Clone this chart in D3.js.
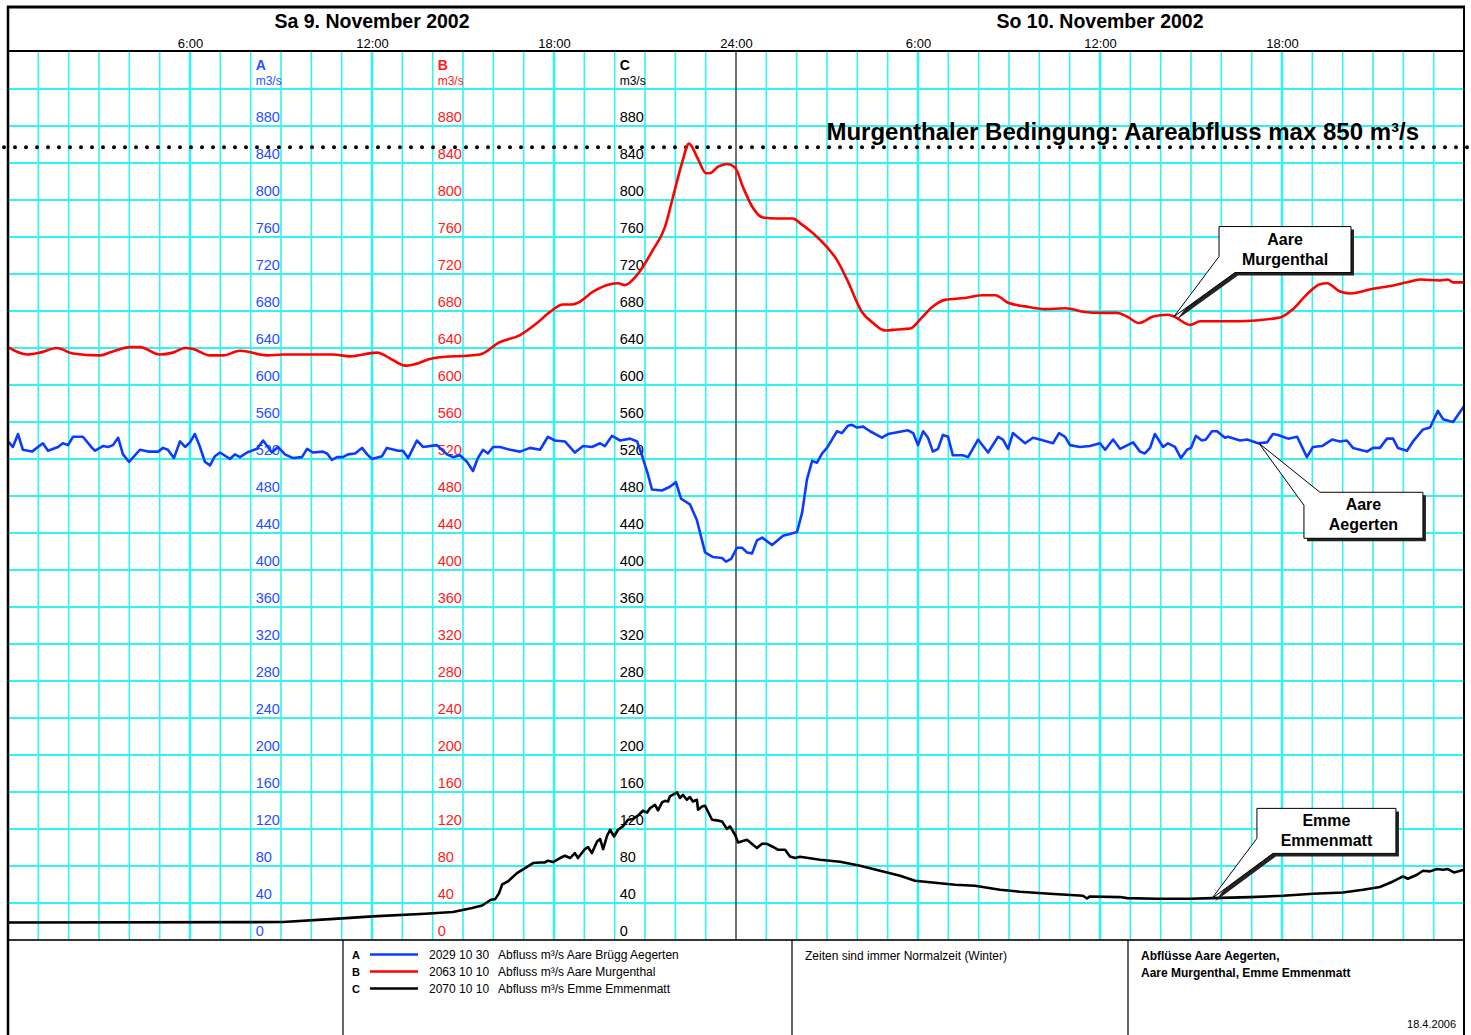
<!DOCTYPE html>
<html>
<head>
<meta charset="utf-8">
<script src="https://cdn.jsdelivr.net/npm/d3@7"></script>
<style>
  body { margin: 0; background: #fff; }
  svg { display: block; }
  text { font-family: "Liberation Sans", Arial, Helvetica, sans-serif; }
</style>
</head>
<body>
<script>
// hours since Sa 9.11.2002 0:00, flow m3/s
const aareAegerten = [
  [0,539],[0.16,533],[0.33,547],[0.49,530],[0.79,528],[1.15,537],[1.32,529],[1.65,533],[1.81,537],[1.98,535],
  [2.14,544],[2.47,544],[2.77,532],[2.87,529],[3.13,534],[3.3,533],[3.46,535],[3.63,543],[3.79,525],[3.99,517],
  [4.35,530],[4.62,528],[4.95,528],[5.11,532],[5.27,530],[5.47,521],[5.67,539],[5.84,533],[6.0,538],[6.16,547],
  [6.33,533],[6.49,517],[6.66,513],[6.82,523],[6.99,527],[7.32,520],[7.48,525],[7.65,522],[7.88,527],[8.21,531],
  [8.41,540],[8.57,533],[8.7,527],[8.9,533],[9.13,525],[9.4,521],[9.69,522],[9.86,531],[10.05,527],[10.38,528],
  [10.52,526],[10.68,519],[10.85,522],[11.04,522],[11.21,525],[11.44,526],[11.67,532],[11.84,525],[12.0,520],
  [12.33,523],[12.49,532],[12.86,529],[13.02,529],[13.19,521],[13.48,540],[13.68,533],[14.14,535],[14.47,525],
  [14.67,522],[14.9,524],[15.13,517],[15.33,507],[15.49,521],[15.66,530],[15.82,526],[15.99,533],[16.22,533],
  [16.55,530],[16.88,528],[17.21,532],[17.54,530],[17.8,544],[18.03,540],[18.36,539],[18.69,527],[18.96,534],
  [19.25,533],[19.52,537],[19.68,534],[19.91,545],[20.18,540],[20.51,542],[20.74,539],[20.9,524],[21.1,503],
  [21.23,487],[21.56,486],[21.82,490],[22.02,495],[22.19,477],[22.48,471],[22.71,454],[22.81,441],[22.98,419],
  [23.24,414],[23.54,413],[23.67,409],[23.84,412],[24.03,424],[24.2,424],[24.36,419],[24.53,418],[24.69,432],
  [24.86,435],[25.19,427],[25.55,437],[25.78,439],[26.01,441],[26.18,462],[26.34,498],[26.51,518],[26.67,516],
  [26.84,526],[27.0,532],[27.33,550],[27.49,548],[27.69,556],[27.82,557],[27.99,554],[28.19,555],[28.42,550],
  [28.81,543],[29.01,547],[29.67,551],[29.84,548],[30.0,535],[30.17,550],[30.33,543],[30.49,528],[30.66,531],
  [30.82,546],[30.99,544],[31.15,524],[31.48,524],[31.65,522],[31.98,541],[32.31,527],[32.64,544],[32.8,541],
  [32.97,531],[33.13,548],[33.53,537],[33.79,543],[34.02,541],[34.45,537],[34.65,548],[34.85,544],[35.01,535],
  [35.34,533],[35.67,534],[36.0,537],[36.17,530],[36.43,541],[36.66,531],[37.09,538],[37.32,528],[37.48,526],
  [37.65,532],[37.81,547],[38.08,533],[38.24,537],[38.47,533],[38.67,521],[38.87,530],[39.0,532],[39.16,545],
  [39.36,540],[39.49,541],[39.69,550],[39.86,550],[40.12,543],[40.22,544],[40.62,540],[40.85,541],[41.21,537],
  [41.51,538],[41.7,547],[41.87,546],[42.2,542],[42.5,544],[42.82,522],[43.02,533],[43.32,534],[43.65,541],
  [43.91,539],[44.14,540],[44.34,532],[44.8,528],[45.0,532],[45.23,532],[45.46,542],[45.66,542],[45.82,532],
  [46.12,529],[46.32,539],[46.65,552],[46.88,554],[47.14,572],[47.31,563],[47.64,560],[48,577]
];

const aareMurgenthal = [
  [0,641],[0.63,633],[1.05,635],[1.62,640],[2.14,634],[3.03,632],[3.43,636],[4.02,641],[4.35,641],[5.01,633],
  [5.44,635],[5.84,640],[6.1,639],[6.66,632],[7.09,632],[7.65,637],[8.54,632],[9.07,633],[10.71,633],[11.27,631],
  [12.16,635],[12.69,627],[13.09,621],[13.35,622],[14.01,629],[15.56,633],[16.2,646],[16.88,654],[17.44,667],
  [17.87,679],[18.3,687],[18.59,687],[18.79,689],[19.29,701],[19.85,709],[20.11,710],[20.34,708],[20.74,719],
  [21.26,746],[21.66,771],[21.92,803],[22.22,840],[22.45,861],[22.75,844],[23.01,829],[23.14,829],[23.41,836],
  [23.7,839],[23.97,835],[24.23,814],[24.53,793],[24.89,781],[25.35,780],[25.88,780],[26.11,775],[26.54,764],
  [27.0,749],[27.33,735],[27.66,714],[28.15,679],[28.52,667],[28.91,659],[29.31,660],[29.74,661],[30.13,673],
  [30.46,684],[30.89,692],[31.55,694],[32.11,697],[32.54,697],[32.97,689],[33.53,685],[34.19,682],[34.85,683],
  [35.51,679],[36.0,678],[36.56,678],[36.89,674],[37.29,667],[37.75,674],[38.21,676],[38.44,674],[38.97,665],
  [39.3,669],[40.62,669],[41.93,673],[42.36,682],[42.82,698],[43.25,709],[43.48,710],[43.91,701],[44.24,699],
  [45.0,704],[45.56,707],[46.12,711],[46.55,714],[47.21,713],[47.47,714],[47.64,711],[48,711]
];

const emmeEmmenmatt = [
  [0,19],[9.07,19.4],[10.62,22.6],[12.03,25.5],[13.75,28.4],[14.67,30.2],[15.3,34.5],[15.63,37.3],[15.92,43.5],
  [16.06,44.2],[16.19,50.7],[16.29,60],[16.48,63.3],[16.78,72.3],[17.31,83.2],[17.54,83.8],[17.7,83.8],[17.8,85.7],
  [17.97,84.3],[18.2,88.6],[18.36,91.1],[18.53,88.6],[18.69,94],[18.79,88.6],[19.02,98.3],[19.12,100.5],[19.25,94],
  [19.42,106.5],[19.52,109.1],[19.62,98.3],[19.75,112.7],[19.85,119.2],[19.98,111.9],[20.11,119.2],[20.27,122.8],
  [20.44,130],[20.6,130.8],[20.8,135.4],[20.93,139.7],[21.07,137.9],[21.17,142.6],[21.33,146.2],[21.43,140.1],
  [21.56,148.7],[21.66,150.5],[21.76,149.8],[21.82,155.2],[22.06,159.5],[22.15,153.5],[22.25,157],[22.38,151.6],
  [22.48,154.5],[22.58,149.8],[22.71,151.6],[22.75,140.8],[22.88,144.4],[22.98,145.1],[23.21,130],[23.37,129.3],
  [23.54,128.2],[23.7,120],[23.8,122.8],[23.97,113.8],[24.07,105.5],[24.36,108.4],[24.56,103],[24.69,99.4],
  [24.86,104],[25.02,104],[25.19,101.1],[25.38,97.6],[25.62,97.6],[25.78,90.3],[25.95,88.6],[26.11,90],
  [26.77,86.8],[27.43,84.6],[28.09,80.3],[28.75,74.9],[29.41,69.5],[29.9,64.1],[30.56,61.9],[31.22,59.7],
  [31.88,58.6],[32.7,54.3],[33.36,52.2],[34.35,50],[35.44,47.8],[35.57,44.9],[35.67,47.1],[36.66,46.4],
  [36.89,45.3],[37.88,44.6],[38.97,44.6],[39.69,45.3],[40.95,46.4],[42.03,47.8],[43.02,50],[44.01,51.4],
  [44.67,54.3],[45.23,57.3],[45.66,63.3],[45.99,68.7],[46.15,66.2],[46.45,70.5],[46.65,74.9],[46.88,74.2],
  [47.11,76.7],[47.31,76],[47.47,76.7],[47.67,73.1],[48,76]
];

const dayLabels = [[12, "Sa 9. November 2002"], [36, "So 10. November 2002"]];
const timeTicks = [6, 12, 18, 24, 30, 36, 42];
const yTicks = d3.range(0, 881, 40);
const yGrid = d3.range(0, 921, 40);
const limitLine = 857;
const axisColumns = [
  { hour: 8,  letter: "A", color: "#1f4fff" },
  { hour: 14, letter: "B", color: "#ff1a1a" },
  { hour: 20, letter: "C", color: "#000" }
];
const legendRows = [
  { letter: "A", code: "2029 10 30", name: "Abfluss m³/s Aare Brügg Aegerten", color: "#0a3cff" },
  { letter: "B", code: "2063 10 10", name: "Abfluss m³/s Aare Murgenthal", color: "#ff0000" },
  { letter: "C", code: "2070 10 10", name: "Abfluss m³/s Emme Emmenmatt", color: "#000" }
];

const W = 1471, H = 1035;
const plotL = 8, plotR = 1464, plotT = 51, plotB = 940;
const cyan = "#33f2f2";

const svg = d3.select("body").append("svg")
              .attr("width", W)
              .attr("height", H)

const x = d3.scaleLinear().domain([0, 48]).range([plotL, plotR]);
const y = d3.scaleLinear().domain([0, 880]).range([plotB, 126]);

// grid
svg.append("g")
   .selectAll("line")
   .data(yGrid.slice(1))
   .enter().append("line")
   .attr("x1", plotL).attr("x2", plotR)
   .attr("y1", d => y(d)).attr("y2", d => y(d))
   .attr("stroke", cyan).attr("stroke-width", 2)

svg.append("g")
   .selectAll("line")
   .data(d3.range(1, 48))
   .enter().append("line")
   .attr("x1", d => x(d)).attr("x2", d => x(d))
   .attr("y1", plotT).attr("y2", plotB)
   .attr("stroke", d => d === 24 ? "#444" : cyan)
   .attr("stroke-width", d => d === 24 ? 1.5 : (d % 6 === 0 ? 2.6 : 1.6))

// axis labels in the plot
axisColumns.forEach(c => {
  const g = svg.append("g").attr("fill", c.color)
  g.append("text")
   .attr("x", x(c.hour) + 5).attr("y", 70)
   .style("font-size", "14px").style("font-weight", "bold")
   .text(c.letter)
  g.append("text")
   .attr("x", x(c.hour) + 5).attr("y", 85)
   .style("font-size", "12px")
   .text("m3/s")
  g.selectAll("text.tick")
   .data(yTicks)
   .enter().append("text")
   .attr("class", "tick")
   .attr("x", x(c.hour) + 5)
   .attr("y", d => y(d) - 4)
   .style("font-size", "14.5px")
   .text(d => d)
})

// limit line
svg.append("line")
   .attr("x1", 4).attr("x2", 1469)
   .attr("y1", y(limitLine)).attr("y2", y(limitLine))
   .attr("stroke", "#000").attr("stroke-width", 4)
   .attr("stroke-linecap", "round")
   .attr("stroke-dasharray", "0 11")

svg.append("text")
   .attr("x", 1419).attr("y", 140)
   .attr("text-anchor", "end")
   .style("font-size", "24px").style("font-weight", "bold")
   .text("Murgenthaler Bedingung: Aareabfluss max 850 m³/s")

// series
const plot = svg.append("g")
const lineLin = d3.line().x(d => x(d[0])).y(d => y(d[1]))
const lineSmooth = d3.line().x(d => x(d[0])).y(d => y(d[1])).curve(d3.curveMonotoneX)

plot.append("path").datum(emmeEmmenmatt)
    .attr("d", lineLin).attr("fill", "none")
    .attr("stroke", "#000").attr("stroke-width", 2.6).attr("stroke-linejoin", "round")
plot.append("path").datum(aareMurgenthal)
    .attr("d", lineSmooth).attr("fill", "none")
    .attr("stroke", "#ff0000").attr("stroke-width", 2.6).attr("stroke-linejoin", "round")
plot.append("path").datum(aareAegerten)
    .attr("d", lineLin).attr("fill", "none")
    .attr("stroke", "#0a3cff").attr("stroke-width", 2.6).attr("stroke-linejoin", "round")

// callouts: tip in data units, box offset in px from tip
const callouts = [
  { lines: ["Aare", "Murgenthal"], tip: [38.44, 674], dx: 45, dy: -90, bw: 132, bh: 46, side: "below" },
  { lines: ["Aare", "Aegerten"], tip: [41.24, 537], dx: 45, dy: 49, bw: 119, bh: 46, side: "above" },
  { lines: ["Emme", "Emmenmatt"], tip: [39.69, 45], dx: 45, dy: -90, bw: 139, bh: 45, side: "below" }
];

callouts.forEach(c => {
  const tx = x(c.tip[0]), ty = y(c.tip[1]);
  const bx = tx + c.dx, by = ty + c.dy;
  let pts;
  if (c.side === "below") {
    pts = [[bx, by], [bx + c.bw, by], [bx + c.bw, by + c.bh], [bx + 16, by + c.bh], [tx, ty], [bx, by + 30]];
  } else {
    pts = [[bx + 16, by], [bx + c.bw, by], [bx + c.bw, by + c.bh], [bx, by + c.bh], [bx, by + 13], [tx, ty]];
  }
  const path = "M" + pts.map(p => p.join(",")).join("L") + "Z";
  const g = svg.append("g")
  g.append("path").attr("d", path)
   .attr("transform", "translate(3,3)")
   .attr("fill", "#222")
  g.append("path").attr("d", path)
   .attr("fill", "#fff").attr("stroke", "#000").attr("stroke-width", 1)
  g.selectAll("text")
   .data(c.lines)
   .enter().append("text")
   .attr("x", bx + c.bw / 2)
   .attr("y", (d, i) => by + 18 + i * 20)
   .attr("text-anchor", "middle")
   .style("font-size", "16px").style("font-weight", "bold")
   .text(d => d)
})

// header
svg.append("rect")
   .attr("x", plotL).attr("y", 7).attr("width", plotR - plotL).attr("height", plotT - 7)
   .attr("fill", "#fff")

svg.selectAll("text.day")
   .data(dayLabels)
   .enter().append("text")
   .attr("class", "day")
   .attr("x", d => x(d[0])).attr("y", 28)
   .attr("text-anchor", "middle")
   .style("font-size", "19.5px").style("font-weight", "bold")
   .text(d => d[1])

const xAxis = d3.axisTop(x)
                .tickValues(timeTicks)
                .tickSize(0)
                .tickPadding(2)
                .tickFormat(d => (d % 24 === 0 ? 24 : d % 24) + ":00")
svg.append("g")
   .attr("transform", "translate(0," + (plotT - 1) + ")")
   .call(xAxis)
   .call(g => g.select(".domain").remove())
   .selectAll("text")
   .style("font-size", "13px")
   .style("font-family", "'Liberation Sans', Arial, sans-serif")
   .attr("fill", "#000")

// frame
const frame = svg.append("g").attr("stroke", "#000").attr("fill", "none")
frame.append("line").attr("x1", plotL - 1).attr("x2", plotR + 1).attr("y1", 7).attr("y2", 7).attr("stroke-width", 3)
frame.append("line").attr("x1", plotL).attr("x2", plotR).attr("y1", plotT).attr("y2", plotT).attr("stroke-width", 2)
frame.append("line").attr("x1", plotL).attr("x2", plotR).attr("y1", plotB).attr("y2", plotB).attr("stroke-width", 2).attr("stroke", "#333")
frame.append("line").attr("x1", plotL).attr("x2", plotL).attr("y1", 6).attr("y2", H).attr("stroke-width", 2.5)
frame.append("line").attr("x1", plotR).attr("x2", plotR).attr("y1", 6).attr("y2", H).attr("stroke-width", 2)
;[343, 792, 1128].forEach(px => {
  frame.append("line").attr("x1", px).attr("x2", px).attr("y1", plotB).attr("y2", H).attr("stroke-width", 1.2)
})

// legend
const legend = svg.append("g").style("font-size", "12px")
legendRows.forEach((r, i) => {
  const ly = 959 + i * 17;
  legend.append("text").attr("x", 352).attr("y", ly).style("font-size", "11px").style("font-weight", "bold").text(r.letter)
  legend.append("line").attr("x1", 370).attr("x2", 418).attr("y1", ly - 4.5).attr("y2", ly - 4.5)
        .attr("stroke", r.color).attr("stroke-width", 2.5)
  legend.append("text").attr("x", 429).attr("y", ly).text(r.code)
  legend.append("text").attr("x", 498).attr("y", ly).text(r.name)
})
legend.append("text").attr("x", 805).attr("y", 960).text("Zeiten sind immer Normalzeit (Winter)")
legend.append("text").attr("x", 1141).attr("y", 960).style("font-weight", "bold").text("Abflüsse Aare Aegerten,")
legend.append("text").attr("x", 1141).attr("y", 977).style("font-weight", "bold").text("Aare Murgenthal, Emme Emmenmatt")
legend.append("text").attr("x", 1456).attr("y", 1028).attr("text-anchor", "end").style("font-size", "11px").text("18.4.2006")
</script>
</body>
</html>
